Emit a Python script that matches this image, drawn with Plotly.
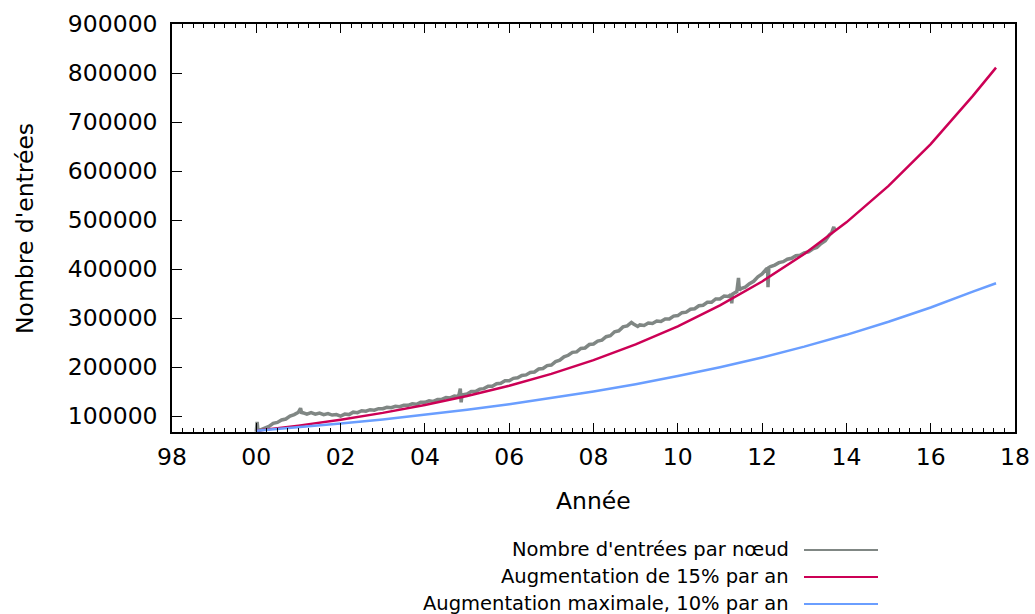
import plotly.graph_objects as go

# ---- data ----
obs_years = [2000.00, 2000.02, 2000.04, 2000.10, 2000.20, 2000.30, 2000.40, 2000.50, 2000.60, 2000.70,
             2000.80, 2000.90, 2001.00, 2001.05, 2001.08, 2001.10, 2001.20, 2001.30, 2001.40, 2001.50,
             2001.60, 2001.70, 2001.80, 2001.90, 2002.00, 2002.10, 2002.20, 2002.30, 2002.40, 2002.50,
             2002.60, 2002.70, 2002.80, 2002.90, 2003.00, 2003.10, 2003.20, 2003.30, 2003.40, 2003.50,
             2003.60, 2003.70, 2003.80, 2003.90, 2004.00, 2004.10, 2004.20, 2004.30, 2004.40, 2004.50,
             2004.60, 2004.70, 2004.80, 2004.84, 2004.86, 2004.88, 2005.00, 2005.10, 2005.20, 2005.30,
             2005.40, 2005.50, 2005.60, 2005.70, 2005.80, 2005.90, 2006.00, 2006.10, 2006.20, 2006.30,
             2006.40, 2006.50, 2006.60, 2006.70, 2006.80, 2006.90, 2007.00, 2007.10, 2007.20, 2007.30,
             2007.40, 2007.50, 2007.60, 2007.70, 2007.80, 2007.90, 2008.00, 2008.10, 2008.20, 2008.30,
             2008.40, 2008.50, 2008.60, 2008.70, 2008.80, 2008.90, 2008.95, 2009.05, 2009.10, 2009.20,
             2009.30, 2009.40, 2009.50, 2009.60, 2009.70, 2009.80, 2009.90, 2010.00, 2010.10, 2010.20,
             2010.30, 2010.40, 2010.50, 2010.60, 2010.70, 2010.80, 2010.90, 2011.00, 2011.10, 2011.20,
             2011.26, 2011.28, 2011.30, 2011.40, 2011.44, 2011.46, 2011.50, 2011.60, 2011.70, 2011.80,
             2011.90, 2012.00, 2012.10, 2012.13, 2012.14, 2012.16, 2012.20, 2012.30, 2012.40, 2012.50,
             2012.60, 2012.70, 2012.80, 2012.90, 2013.00, 2013.10, 2013.20, 2013.30, 2013.40, 2013.50,
             2013.60, 2013.65, 2013.70, 2013.72]
obs_values = [68000, 88000, 70000, 72000, 77000, 79000, 85000, 87000, 92000, 94000,
              100000, 103000, 108000, 116000, 105000, 107000, 104000, 107000, 104000, 106000,
              103000, 105000, 102000, 103000, 100000, 104000, 103000, 108000, 107000, 111000,
              110000, 113000, 112000, 115000, 115000, 118000, 117000, 120000, 119000, 122000,
              122000, 125000, 124000, 128000, 128000, 131000, 130000, 134000, 134000, 138000,
              137000, 141000, 140000, 156000, 128000, 143000, 145000, 150000, 150000, 155000,
              156000, 161000, 161000, 166000, 167000, 172000, 172000, 177000, 178000, 183000,
              184000, 189000, 190000, 196000, 197000, 203000, 204000, 211000, 214000, 221000,
              224000, 230000, 231000, 238000, 239000, 246000, 247000, 253000, 255000, 262000,
              264000, 272000, 274000, 282000, 284000, 291000, 288000, 283000, 286000, 285000,
              290000, 289000, 294000, 293000, 298000, 298000, 304000, 305000, 311000, 312000,
              318000, 319000, 325000, 326000, 332000, 332000, 339000, 339000, 345000, 344000,
              348000, 330000, 349000, 354000, 382000, 357000, 360000, 363000, 370000, 375000,
              384000, 390000, 400000, 401000, 363000, 403000, 405000, 408000, 413000, 415000,
              420000, 422000, 427000, 428000, 433000, 435000, 441000, 444000, 452000, 458000,
              470000, 474000, 486000, 480000]

proj_years = [2000, 2001, 2002, 2003, 2004, 2005, 2006, 2007, 2008, 2009,
              2010, 2011, 2012, 2013, 2014, 2015, 2016, 2017, 2017.55]
growth15 = [70000, 80500, 92600, 106500, 122400, 140800, 161900, 186200, 214100, 246200,
            283200, 325700, 374500, 430700, 495300, 569600, 655000, 753300, 811000]
growth10 = [70000, 77000, 84700, 93200, 102500, 112700, 124000, 136400, 150100, 165100,
            181600, 199700, 219700, 241700, 265800, 292400, 321600, 353800, 371000]

x_tickvals = [1998, 2000, 2002, 2004, 2006, 2008, 2010, 2012, 2014, 2016, 2018]
x_ticktext = ["98", "00", "02", "04", "06", "08", "10", "12", "14", "16", "18"]
y_tickvals = [100000, 200000, 300000, 400000, 500000, 600000, 700000, 800000, 900000]
y_ticktext = [str(v) for v in y_tickvals]

legend_labels = ["Nombre d'entrées par nœud",
                 "Augmentation de 15% par an",
                 "Augmentation maximale, 10% par an"]
colors = ["#808784", "#cc0055", "#6a9eff"]

FONT = "DejaVu Sans"
FS = 23.5

fig = go.Figure()
fig.add_trace(go.Scatter(x=obs_years, y=obs_values, mode="lines",
                         line=dict(color=colors[0], width=3.5), name=legend_labels[0]))
fig.add_trace(go.Scatter(x=proj_years, y=growth15, mode="lines",
                         line=dict(color=colors[1], width=2.5), name=legend_labels[1]))
fig.add_trace(go.Scatter(x=proj_years, y=growth10, mode="lines",
                         line=dict(color=colors[2], width=2.5), name=legend_labels[2]))

W, H = 1035, 614
L, R, T, B = 172, 20, 24, 182
pw, ph = W - L - R, H - T - B

fig.update_layout(
    width=W, height=H,
    margin=dict(l=L, r=R, t=T, b=B, pad=0, autoexpand=False),
    paper_bgcolor="white", plot_bgcolor="white",
    showlegend=False,
    font=dict(family=FONT, size=FS, color="black"),
)
fig.update_xaxes(
    range=[1998, 2018], tickvals=x_tickvals, ticktext=x_ticktext,
    showgrid=False, zeroline=False, automargin=False,
    showline=True, linecolor="black", linewidth=1.5, mirror="ticks",
    ticks="inside", ticklen=9, tickwidth=1.2, tickcolor="black",
    minor=dict(dtick=0.25, tick0=1998, ticks="inside", ticklen=4.5, tickwidth=1, tickcolor="black", showgrid=False),
    tickfont=dict(size=FS, family=FONT),
    ticklabelstandoff=3,
)
fig.update_yaxes(
    range=[67500, 900000], tickvals=y_tickvals, ticktext=y_ticktext,
    showgrid=False, zeroline=False, automargin=False,
    showline=True, linecolor="black", linewidth=1.5, mirror=True,
    ticks="inside", ticklen=10, tickwidth=1.2, tickcolor="black",
    tickfont=dict(size=FS, family=FONT),
    ticklabelstandoff=8,
)

def px_x(px):
    return (px - L) / pw

def px_y(py):
    return (H - B - py) / ph

annotations = [
    dict(text="Année", x=px_x(593), y=px_y(501), xref="paper", yref="paper",
         xanchor="center", yanchor="middle", showarrow=False, font=dict(size=FS, family=FONT)),
    dict(text="Nombre d'entrées", x=px_x(25), y=px_y(229), xref="paper", yref="paper",
         xanchor="center", yanchor="middle", textangle=-90, showarrow=False,
         font=dict(size=FS, family=FONT)),
]
shapes = []
for i, (lab, col) in enumerate(zip(legend_labels, colors)):
    yy = 550 + 27 * i
    annotations.append(dict(text=lab, x=px_x(791), y=px_y(yy - 1), xref="paper", yref="paper",
                            xanchor="right", yanchor="middle", showarrow=False,
                            font=dict(size=19.5, family=FONT)))
    shapes.append(dict(type="line", xref="paper", yref="paper",
                       x0=px_x(804), x1=px_x(878), y0=px_y(yy), y1=px_y(yy),
                       line=dict(color=col, width=2)))
fig.update_layout(annotations=annotations, shapes=shapes)

fig.write_html("out.html", config={"displayModeBar": False},
               post_script="document.body.style.margin='0';document.body.style.overflow='hidden';")
